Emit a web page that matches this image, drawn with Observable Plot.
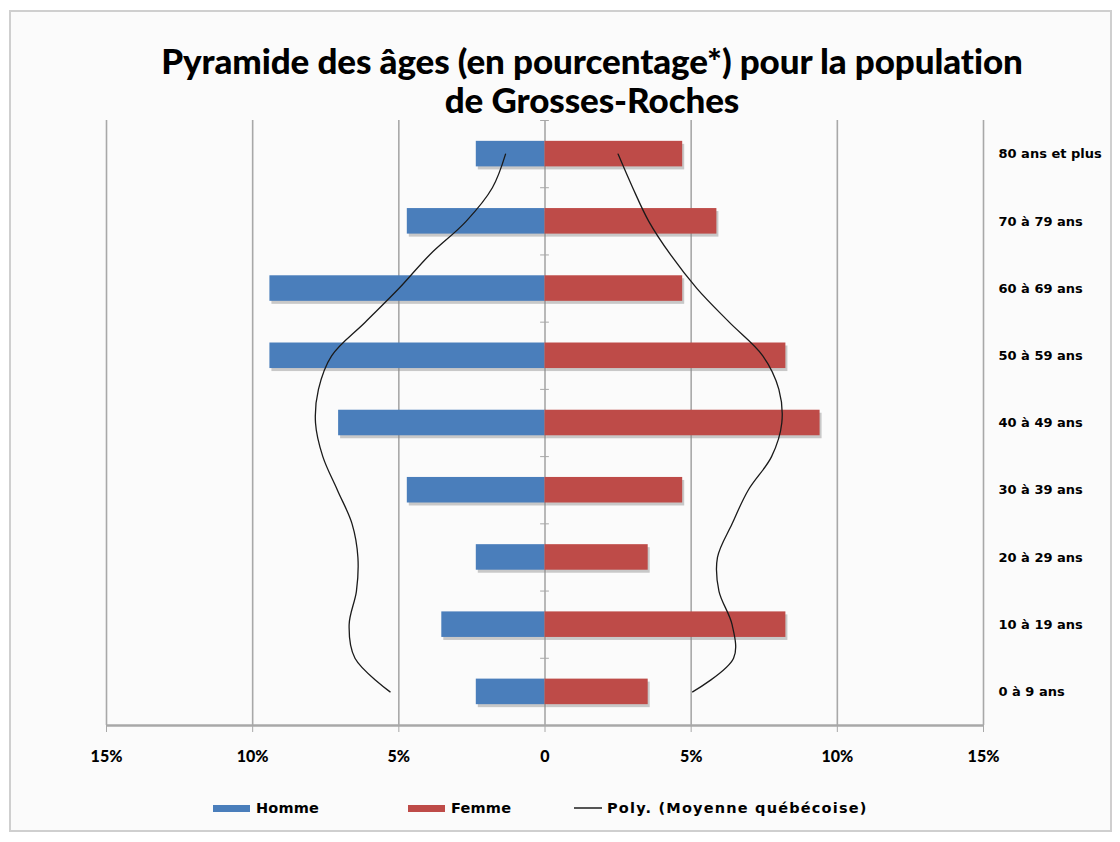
<!DOCTYPE html>
<html>
<head>
<meta charset="utf-8">
<script src="https://cdn.jsdelivr.net/npm/d3@7"></script>
<script src="https://cdn.jsdelivr.net/npm/@observablehq/plot@0.6"></script>
<style>
  html, body { margin: 0; padding: 0; background: #ffffff; }
  body { width: 1120px; height: 842px; position: relative; overflow: hidden; font-family: Lato, "Open Sans", sans-serif; }
  #frame { position: absolute; left: 9px; top: 10px; width: 1103px; height: 822px; border: 2px solid #cfcfcf; background: #fbfbfb; box-sizing: border-box; }
  #title { position: absolute; left: 0; top: 41px; width: 1184px; text-align: center; font-weight: 900; font-size: 35px; line-height: 39px; color: #000; letter-spacing: -0.1px; }
  #chart { position: absolute; left: 0; top: 112px; }
  #legend { position: absolute; left: 0; top: 797px; width: 1120px; height: 22px; font-family: "DejaVu Sans", sans-serif; font-size: 14.5px; font-weight: bold; color: #000; }
  .item { position: absolute; top: 0; display: flex; align-items: center; height: 22px; letter-spacing: 0.2px; }
  .item.wide { letter-spacing: 1.2px; }
  .sw { display: inline-block; width: 37px; height: 7px; margin-right: 6px; }
  .ln { display: inline-block; width: 28px; height: 2px; margin-right: 5px; background: #555; }
</style>
</head>
<body>
<div id="frame"></div>
<div id="title">Pyramide des âges (en pourcentage*) pour la population<br>de Grosses-Roches</div>
<div id="chart"></div>
<div id="legend"></div>
<script>
// ---- Data ----
const ageGroups = ["0 à 9 ans", "10 à 19 ans", "20 à 29 ans", "30 à 39 ans", "40 à 49 ans",
                   "50 à 59 ans", "60 à 69 ans", "70 à 79 ans", "80 ans et plus"];
const homme = [2.35, 3.53, 2.35, 4.71, 7.06, 9.41, 9.41, 4.71, 2.35];
const femme = [3.53, 8.24, 3.53, 4.71, 9.41, 8.24, 4.71, 5.88, 4.71];

// Polynomial trend "Moyenne québécoise", sampled along the age axis (position in category units)
const curvePos   = [0, 0.5, 1, 1.5, 2, 2.5, 3, 3.5, 4, 4.5, 5, 5.5, 6, 6.5, 7, 7.5, 8];
const curveHomme = [5.3, 6.5, 6.7, 6.45, 6.4, 6.6, 7.1, 7.6, 7.85, 7.75, 7.3, 6.15, 5.0, 3.95, 2.7, 1.8, 1.35];
const curveFemme = [5.05, 6.45, 6.4, 5.95, 5.9, 6.4, 6.95, 7.75, 8.1, 8.0, 7.45, 6.3, 5.2, 4.3, 3.55, 3.0, 2.5];

const xTicks = [-15, -10, -5, 0, 5, 10, 15];
const legendLabels = ["Homme", "Femme", "Poly. (Moyenne québécoise)"];

// ---- Build tables ----
const colH = "#4a7ebb", colF = "#be4b48";
const bars = ageGroups.map((g, i) => ({ i, homme: homme[i], femme: femme[i] }));
const lineH = curvePos.map((p, k) => ({ p, v: -curveHomme[k] }));
const lineF = curvePos.map((p, k) => ({ p, v: curveFemme[k] }));
const half = 0.19;
const boundaries = d3.range(ageGroups.length + 1).map(k => k - 0.5);

const chart = Plot.plot({
  width: 1120,
  height: 665,
  marginLeft: 106,
  marginRight: 137,
  marginTop: 8,
  marginBottom: 52,
  style: { background: "transparent", fontFamily: "Lato, 'Open Sans', sans-serif", color: "#000" },
  x: { domain: [-15, 15] },
  y: { domain: [-0.5, ageGroups.length - 0.5] },
  marks: [
    Plot.ruleX(xTicks, { stroke: "#a8a8a8", strokeWidth: 1.6 }),
    Plot.ruleY(boundaries, { y: d => d, x1: -0.15, x2: 0.15, stroke: "#a8a8a8", strokeWidth: 1 }),
    // shadows
    Plot.rect(bars, { x1: 0, x2: d => -d.homme, y1: d => d.i - half, y2: d => d.i + half, fill: "#8a8a8a", fillOpacity: 0.45, dx: 2, dy: 3 }),
    Plot.rect(bars, { x1: 0, x2: d => d.femme, y1: d => d.i - half, y2: d => d.i + half, fill: "#8a8a8a", fillOpacity: 0.45, dx: 2, dy: 3 }),
    // bars
    Plot.rect(bars, { x1: 0, x2: d => -d.homme, y1: d => d.i - half, y2: d => d.i + half, fill: colH }),
    Plot.rect(bars, { x1: 0, x2: d => d.femme, y1: d => d.i - half, y2: d => d.i + half, fill: colF }),
    // trend curves
    Plot.line(lineH, { x: "v", y: "p", curve: "catmull-rom", stroke: "#1a1a1a", strokeWidth: 1.3 }),
    Plot.line(lineF, { x: "v", y: "p", curve: "catmull-rom", stroke: "#1a1a1a", strokeWidth: 1.3 }),
    Plot.ruleY([-0.5], { stroke: "#a8a8a8", strokeWidth: 2.5 }),
    Plot.axisX({ ticks: xTicks, tickFormat: d => d === 0 ? "0" : Math.abs(d) + "%", tickSize: 7, tickPadding: 18,
                 stroke: "#a8a8a8", fontSize: 16, fontWeight: 900, label: null }),
    Plot.axisY({ anchor: "right", ticks: d3.range(ageGroups.length), tickFormat: i => ageGroups[i], tickSize: 0,
                 tickPadding: 15, textAnchor: "start", fontSize: 13, fontWeight: "bold",
                 fontFamily: "'DejaVu Sans', sans-serif", label: null })
  ]
});
document.getElementById("chart").appendChild(chart);

// ---- Legend ----
const legend = document.getElementById("legend");
const items = [
  { label: legendLabels[0], left: 213, kind: "sw", color: colH, cls: "" },
  { label: legendLabels[1], left: 408, kind: "sw", color: colF, cls: "" },
  { label: legendLabels[2], left: 574, kind: "ln", color: "#555", cls: "wide" }
];
items.forEach(it => {
  const div = document.createElement("div");
  div.className = "item " + it.cls;
  div.style.left = it.left + "px";
  const s = document.createElement("span");
  s.className = it.kind;
  s.style.background = it.color;
  div.appendChild(s);
  div.appendChild(document.createTextNode(it.label));
  legend.appendChild(div);
});
</script>
</body>
</html>
